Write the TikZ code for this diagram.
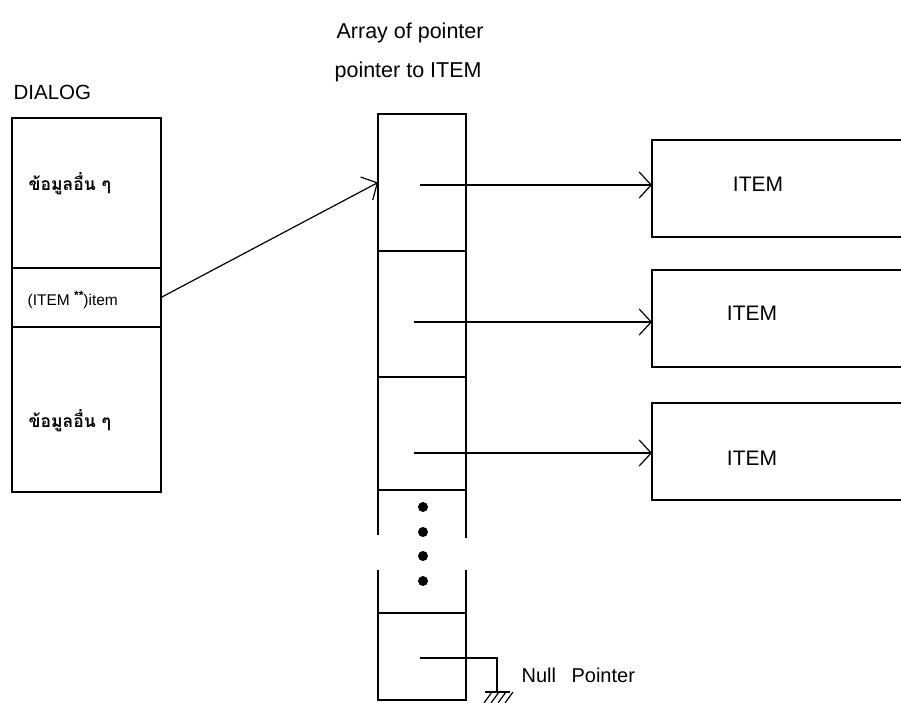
\documentclass[tikz,border=0pt]{standalone}
\usepackage{fontspec}
\setmainfont{Liberation Sans}
\newfontfamily\thaifont[Script=Thai]{Loma}
\usetikzlibrary{arrows.meta}
\begin{document}
\begin{tikzpicture}[x=1pt,y=-1pt,
  line width=1.2pt,
  cell/.style={draw,rectangle,inner sep=0pt,outer sep=0pt},
  lab/.style={inner sep=0pt,anchor=west},
  arr/.style={-{Straight Barb[length=12pt,width=26pt,line width=1.2pt]}},
  thai/.style={font=\thaifont\bfseries\fontsize{17.5}{19}\selectfont}]
\useasboundingbox (0,0) rectangle (901,703);
\clip (0,0) rectangle (901,703);
% titles
\node[lab,font=\fontsize{21.5}{24}\selectfont] (t1) at (336,33) {Array of pointer};
\node[lab,font=\fontsize{21.5}{24}\selectfont] (t2) at (334,72) {pointer to ITEM};
\node[lab,font=\fontsize{20.5}{22}\selectfont] (tdlg) at (13,92) {DIALOG};
% DIALOG structure
\node[cell,minimum width=149pt,minimum height=150pt] (d1) at (86.5,193) {};
\node[cell,minimum width=149pt,minimum height=59pt] (d2) at (86.5,297.5) {};
\node[cell,minimum width=149pt,minimum height=165pt] (d3) at (86.5,409.5) {};
\node[lab,thai] (d1t) at (28,184) {ข้อมูลอื่น ๆ};
\node[lab,font=\fontsize{15.5}{17}\selectfont] (d2t) at (27,300) {(ITEM \raisebox{0.8ex}{\bfseries\fontsize{12}{12}\selectfont **})item};
\node[lab,thai] (d3t) at (28,421) {ข้อมูลอื่น ๆ};
% array of pointers
\node[cell,minimum width=88pt,minimum height=137pt] (a1) at (422,182.5) {};
\node[cell,minimum width=88pt,minimum height=126pt] (a2) at (422,314) {};
\node[cell,minimum width=88pt,minimum height=113pt] (a3) at (422,433.5) {};
\draw (378,490) -- (466,490);
\draw (378,490) -- (378,535);
\draw (466,490) -- (466,538);
\draw (378,570) -- (378,613);
\draw (466,570) -- (466,613);
\node[cell,minimum width=88pt,minimum height=87pt] (a5) at (422,656.5) {};
\foreach \yy in {507,532,556,581} \fill (423,\yy) circle (5pt);
% ITEM boxes
\node[cell,minimum width=320pt,minimum height=97pt] (i1) at (812,188.5) {};
\node[cell,minimum width=320pt,minimum height=97pt] (i2) at (812,318.5) {};
\node[cell,minimum width=320pt,minimum height=97pt] (i3) at (812,451.5) {};
\node[font=\fontsize{21}{23}\selectfont] (i1t) at (758,184) {ITEM};
\node[font=\fontsize{21}{23}\selectfont] (i2t) at (752,313) {ITEM};
\node[font=\fontsize{21}{23}\selectfont] (i3t) at (752,458) {ITEM};
% pointers
\coordinate (p1) at (420,185);
\coordinate (p2) at (414,322);
\coordinate (p3) at (414,453);
\draw[arr] (d2.east) -- (a1.west);
\draw[arr] (p1) -- (i1.west |- p1);
\draw[arr] (p2) -- (i2.west |- p2);
\draw[arr] (p3) -- (i3.west |- p3);
% null pointer
\coordinate (p5) at (420,658);
\coordinate (gnd) at (497,692);
\draw (p5) -- (p5 -| gnd) -- (gnd);
\draw ([xshift=-12pt]gnd) -- ([xshift=13pt]gnd);
\foreach \k in {0,1,2,3} \draw ([xshift={(-13+7*\k)*1pt},yshift=-11pt]gnd) -- ([xshift={(-5+7*\k)*1pt}]gnd);
\node[lab,font=\fontsize{20}{22}\selectfont] (np) at (521,675) {Null\hspace{0.5em} Pointer};
\end{tikzpicture}
\end{document}
